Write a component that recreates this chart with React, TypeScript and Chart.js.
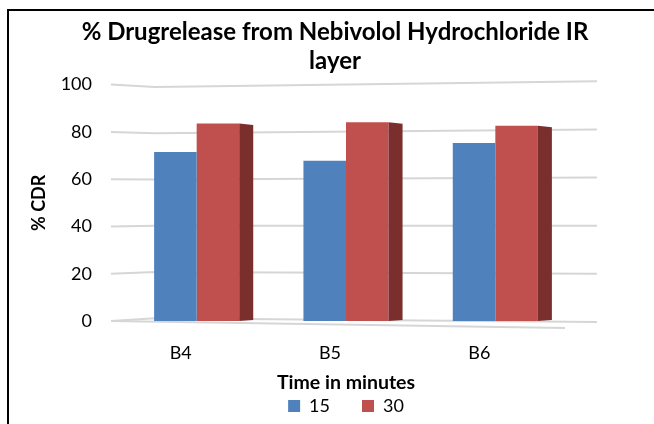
import React, { useEffect, useRef } from "react";
import { Chart, registerables } from "chart.js";

Chart.register(...registerables);

const categories = ["B4", "B5", "B6"];
const series15 = [71.5, 67.8, 75.3];
const series30 = [83.5, 84.1, 82.6];
const yTicks = [0, 20, 40, 60, 80, 100];
const titleLines = ["% Drugrelease from Nebivolol Hydrochloride IR", "layer"];
const xTitle = "Time in minutes";
const yTitle = "% CDR";

const FONT = "Lato";

const framePlugin = {
  id: "frame",
  beforeDraw(chart: any) {
    const ctx = chart.ctx;
    ctx.save();
    ctx.fillStyle = "#ffffff";
    ctx.fillRect(0, 0, chart.width, chart.height);
    ctx.strokeStyle = "#000000";
    ctx.lineWidth = 2;
    ctx.beginPath();
    ctx.moveTo(8, chart.height);
    ctx.lineTo(8, 10);
    ctx.lineTo(chart.width, 10);
    ctx.stroke();
    ctx.restore();
  },
};

const gridPlugin = {
  id: "grid3d",
  beforeDatasetsDraw(chart: any) {
    const y = chart.scales.y;
    const ctx = chart.ctx;
    const { left, right } = chart.chartArea;
    const xl = left - 11;
    const xb = left + 33;
    const xr = right + 27;
    ctx.save();
    ctx.strokeStyle = "#D6D6D6";
    ctx.lineWidth = 2;
    ctx.lineJoin = "round";
    for (const v of yTicks) {
      const p = y.getPixelForValue(v);
      ctx.beginPath();
      ctx.moveTo(xl, p);
      ctx.lineTo(xb, p - 2.7 + 0.05 * v);
      ctx.lineTo(xr, p + 1 - 0.043 * v);
      ctx.stroke();
      if (v === 0) {
        ctx.beginPath();
        ctx.moveTo(xl, p);
        ctx.lineTo(right - 5, p + 7);
        ctx.stroke();
      }
    }
    ctx.restore();
  },
};

const sidePlugin = {
  id: "sides",
  afterDatasetsDraw(chart: any) {
    const ctx = chart.ctx;
    const meta = chart.getDatasetMeta(1);
    const depth = 14;
    ctx.save();
    ctx.fillStyle = "#7B2F2D";
    for (const bar of meta.data) {
      const { x, y, base, width } = bar.getProps(["x", "y", "base", "width"], true);
      const r = x + width / 2;
      ctx.beginPath();
      ctx.moveTo(r, y);
      ctx.lineTo(r + depth, y + 1.5);
      ctx.lineTo(r + depth, base - 1);
      ctx.lineTo(r, base);
      ctx.closePath();
      ctx.fill();
    }
    ctx.restore();
  },
};

export default function App() {
  const ref = useRef<HTMLCanvasElement>(null);
  useEffect(() => {
    const chart = new Chart(ref.current!, {
      type: "bar",
      data: {
        labels: categories,
        datasets: [
          {
            label: "15",
            data: series15,
            backgroundColor: "#4F81BD",
            barPercentage: 1,
            categoryPercentage: 0.57,
          },
          {
            label: "30",
            data: series30,
            backgroundColor: "#C0504D",
            barPercentage: 1,
            categoryPercentage: 0.57,
          },
        ],
      },
      options: {
        animation: false,
        responsive: false,
        maintainAspectRatio: false,
        layout: { padding: { left: 24, right: 8, top: 9, bottom: -1 } },
        plugins: {
          title: {
            display: true,
            text: titleLines,
            color: "#000",
            font: { family: FONT, size: 24, weight: "bold", lineHeight: 1.2 },
            padding: { top: 9, bottom: 9 },
          },
          legend: {
            display: true,
            position: "bottom",
            fullSize: false,
            labels: {
              color: "#000",
              font: { family: FONT, size: 18, lineHeight: 1 },
              boxWidth: 12,
              boxHeight: 12,
              padding: 32,
            },
          },
          tooltip: { enabled: false },
        },
        scales: {
          x: {
            grid: { display: false, drawTicks: false },
            border: { display: false },
            afterFit: (s: any) => {
              s.height = 44;
            },
            ticks: {
              color: "#000",
              font: { family: FONT, size: 18, lineHeight: 1 },
              padding: 23,
              labelOffset: -16,
              maxRotation: 0,
            },
            title: {
              display: true,
              text: xTitle,
              color: "#000",
              font: { family: FONT, size: 19.5, weight: "bold", lineHeight: 1 },
              padding: { top: 0, bottom: -27 },
            },
          },
          y: {
            min: 0,
            max: 100,
            grid: { display: false, drawTicks: false },
            border: { display: false },
            afterFit: (s: any) => {
              s.width = 98;
            },
            afterBuildTicks: (s: any) => {
              s.ticks = yTicks.map((v) => ({ value: v }));
            },
            ticks: {
              color: "#000",
              font: { family: FONT, size: 18, lineHeight: 1 },
              padding: 30,
            },
            title: {
              display: true,
              text: yTitle,
              color: "#000",
              font: { family: FONT, size: 18, weight: "bold", lineHeight: 1 },
              padding: { top: 6, bottom: 0 },
            },
          },
          yRight: {
            position: "right",
            display: true,
            grid: { display: false, drawTicks: false },
            border: { display: false },
            ticks: { display: false },
            afterFit: (s: any) => {
              s.width = 76;
            },
          },
        },
      },
      plugins: [framePlugin, gridPlugin, sidePlugin],
    } as any);
    return () => chart.destroy();
  }, []);
  return (
    <div style={{ position: "fixed", left: 0, top: 0, width: 654, height: 424, background: "#fff" }}>
      <canvas ref={ref} width={654} height={424} style={{ width: 654, height: 424, display: "block" }} />
    </div>
  );
}
